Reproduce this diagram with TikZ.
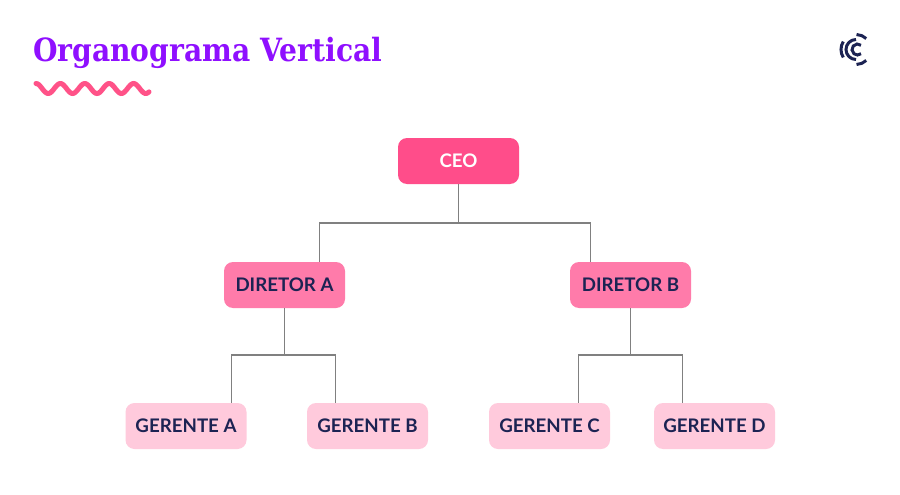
\documentclass[tikz,border=0pt]{standalone}
\usepackage{fontspec}
\setmainfont{Lato}
\newfontfamily\titlefont[FakeStretch=0.88]{DejaVu Serif}
\definecolor{titlepurple}{HTML}{8F0FFF}
\definecolor{wavepink}{HTML}{FF5288}
\definecolor{ceopink}{HTML}{FF4D8A}
\definecolor{dirpink}{HTML}{FF7BAA}
\definecolor{gerpink}{HTML}{FFCADC}
\definecolor{ink}{HTML}{1C2353}
\definecolor{wire}{HTML}{808080}
\tikzset{
  orgbox/.style={minimum width=121pt,minimum height=46pt,inner sep=0pt,rounded corners=9pt,text=ink,font=\fontsize{18.7}{21}\selectfont\bfseries},
  ceobox/.style={orgbox,fill=ceopink,text=white},
  dirbox/.style={orgbox,fill=dirpink},
  gerbox/.style={orgbox,fill=gerpink},
  wire/.style={draw=wire,line width=1.6pt},
  logo/.style={draw=ink,line width=3pt}
}
\begin{document}
\begin{tikzpicture}[x=1pt,y=-1pt]
\useasboundingbox (0,0) rectangle (900,495);
\fill[white] (0,0) rectangle (900,495);
\node[anchor=base west,inner sep=0pt,text=titlepurple,font=\titlefont\fontsize{32}{34}\selectfont\bfseries] (title) at (33,61.5) {Organograma Vertical};
\draw[wavepink,line width=5pt,line cap=round,smooth] plot[domain=36:149,samples=90] (\x,{88.5-5*cos((\x-36)/24.4*360)});
\node[ceobox] (ceo) at (458.5,161) {CEO};
\node[dirbox] (da) at (284.5,285) {DIRETOR A};
\node[dirbox] (db) at (630.5,285) {DIRETOR B};
\node[gerbox] (ga) at (186,426) {GERENTE A};
\node[gerbox] (gb) at (367.5,426) {GERENTE B};
\node[gerbox] (gc) at (549.5,426) {GERENTE C};
\node[gerbox] (gd) at (714.5,426) {GERENTE D};
\draw[wire] (ceo.south) -- ++(0,38.5) coordinate (busA);
\draw[wire] ([xshift=35pt]da.north) |- (busA) -| ([xshift=-40pt]db.north);
\draw[wire] (da.south) -- ++(0,46.5) coordinate (busB);
\draw[wire] ([xshift=45.5pt]ga.north) |- (busB) -| ([xshift=-32pt]gb.north);
\draw[wire] (db.south) -- ++(0,46.5) coordinate (busC);
\draw[wire] ([xshift=29pt]gc.north) |- (busC) -| ([xshift=-32pt]gd.north);
% logo
\coordinate (lc) at (856,49.5);
\draw[logo] (lc) ++(148:15pt) arc[start angle=148,end angle=212,radius=15pt];
\draw[logo] (lc) ++(47:15pt) arc[start angle=47,end angle=88,radius=15pt];
\draw[logo] (lc) ++(-47:15pt) arc[start angle=-47,end angle=-88,radius=15pt];
\draw[logo] (lc) ++(90:10pt) arc[start angle=90,end angle=270,radius=10pt];
\coordinate (lc2) at (857.5,49.5);
\draw[logo] (lc2) ++(50:5.5pt) arc[start angle=50,end angle=310,radius=5.5pt];
\end{tikzpicture}
\end{document}
